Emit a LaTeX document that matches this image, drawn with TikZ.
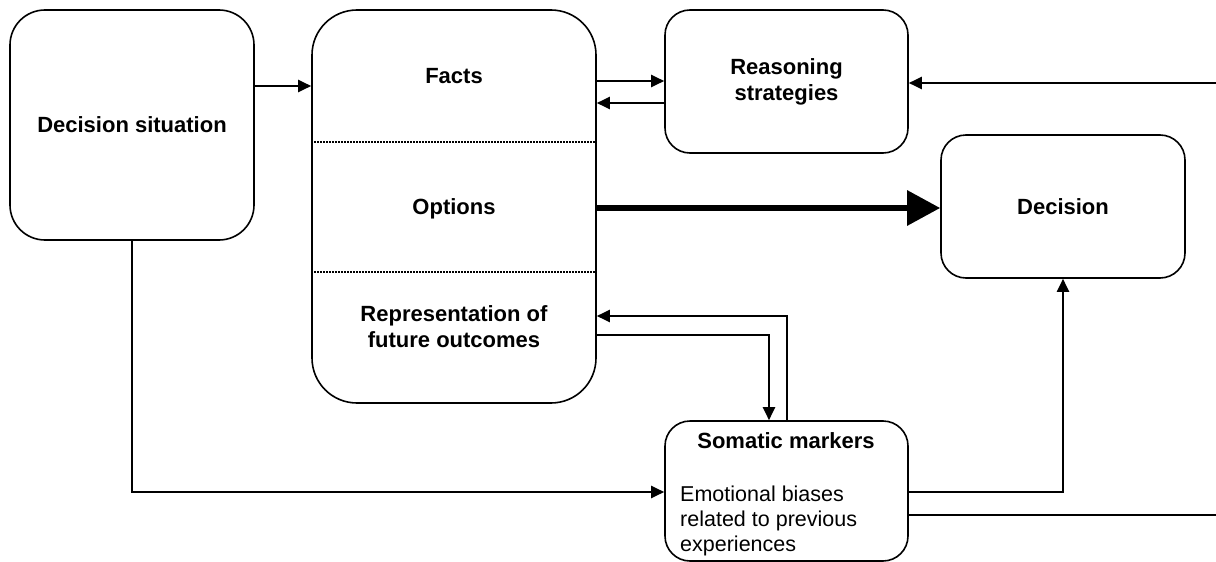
\documentclass[tikz,border=0pt]{standalone}
\usepackage{fontspec}
\setmainfont{Liberation Sans}
\usetikzlibrary{arrows.meta}
\begin{document}
\begin{tikzpicture}[x=1pt,y=-1pt,
  box/.style={draw,line width=1.6pt,inner sep=0pt,align=center,
    font=\bfseries\fontsize{22}{26}\selectfont},
  lbl/.style={inner sep=0pt,align=center,font=\bfseries\fontsize{22}{26}\selectfont},
  txt/.style={inner sep=0pt,align=left,font=\fontsize{21.5}{25}\selectfont},
  conn/.style={line width=2pt,-{Triangle[length=13pt,width=12pt]}},
  plainline/.style={line width=2pt},
  bigarrow/.style={line width=6pt,-{Triangle[length=33pt,width=34pt]}},
  sep/.style={line width=1.3pt,dash pattern=on 1.4pt off 1.6pt}]
\useasboundingbox (0,0) rectangle (1216,562);
\node[box,rounded corners=35pt,minimum width=244pt,minimum height=230pt] (sit) at (132,125) {Decision situation};
\node[box,rounded corners=45pt,minimum width=284pt,minimum height=393pt] (mid) at (454,206.5) {};
\node[box,rounded corners=25pt,minimum width=243pt,minimum height=143pt] (reas) at (786.5,81.5) {Reasoning\\strategies};
\node[box,rounded corners=25pt,minimum width=244pt,minimum height=143pt] (dec) at (1063,206.5) {Decision};
\node[box,rounded corners=25pt,minimum width=243pt,minimum height=140pt] (som) at (786.5,491) {};
\node[lbl] (facts) at (454,76) {Facts};
\node[lbl] (opt) at (454,209) {Options};
\node[lbl] (rep) at (454,327) {Representation of\\future outcomes};
\node[lbl] (somt) at (786,441) {Somatic markers};
\node[txt,anchor=west] (emo) at (680,521) {Emotional biases\\related to previous\\experiences};
\draw[sep] (mid.west |- 0,142) -- (mid.east |- 0,142);
\draw[sep] (mid.west |- 0,272) -- (mid.east |- 0,272);
\coordinate (inR) at (1216,83);
\coordinate (outR) at (1216,515);
\draw[conn] (sit.east |- 0,86) -- (mid.west |- 0,86);
\draw[conn] (mid.east |- 0,81) -- (reas.west |- 0,81);
\draw[conn] (reas.west |- 0,103) -- (mid.east |- 0,103);
\draw[conn] (inR) -- (reas.east |- inR);
\draw[plainline] (som.east |- outR) -- (outR);
\draw[bigarrow] (mid.east |- 0,208) -- (dec.west |- 0,208);
\draw[conn] (sit.south) |- (som.west |- 0,492);
\draw[conn] (som.north) |- (mid.east |- 0,316);
\draw[conn] (mid.east |- 0,335) -| (som.north -| 769,0);
\draw[conn] (som.east |- 0,492) -| (dec.south);
\end{tikzpicture}
\end{document}
